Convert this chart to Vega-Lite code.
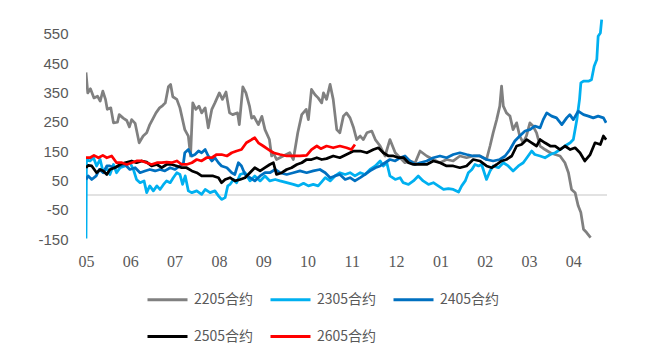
{
  "$schema": "https://vega.github.io/schema/vega-lite/v6.json",
  "width": 521,
  "height": 220,
  "autosize": "none",
  "padding": {"left": 86, "top": 19, "right": 43, "bottom": 123},
  "background": "white",
  "config": {"view": {"stroke": null}, "axis": {"labelOverlap": false}},
  "datasets": {
    "series": [
      {"s":"2205合约","m":0,"v":418},{"s":"2205合约","m":0.04,"v":348},{"s":"2205合约","m":0.1,"v":362},{"s":"2205合约","m":0.18,"v":331},{"s":"2205合约","m":0.26,"v":337},{"s":"2205合约","m":0.32,"v":320},{"s":"2205合约","m":0.38,"v":354},{"s":"2205合约","m":0.44,"v":326},{"s":"2205合约","m":0.48,"v":292},{"s":"2205合约","m":0.56,"v":297},{"s":"2205合约","m":0.62,"v":246},{"s":"2205合约","m":0.71,"v":248},{"s":"2205合约","m":0.75,"v":274},{"s":"2205合约","m":0.84,"v":262},{"s":"2205合约","m":0.92,"v":254},{"s":"2205合约","m":0.98,"v":232},{"s":"2205合约","m":1.03,"v":257},{"s":"2205合约","m":1.11,"v":244},{"s":"2205合约","m":1.2,"v":178},{"s":"2205合约","m":1.29,"v":201},{"s":"2205合约","m":1.37,"v":212},{"s":"2205合约","m":1.44,"v":240},{"s":"2205合约","m":1.5,"v":257},{"s":"2205合约","m":1.58,"v":280},{"s":"2205合约","m":1.66,"v":297},{"s":"2205合约","m":1.73,"v":305},{"s":"2205合约","m":1.79,"v":314},{"s":"2205合约","m":1.86,"v":369},{"s":"2205合约","m":1.91,"v":377},{"s":"2205合约","m":1.96,"v":335},{"s":"2205合约","m":2.05,"v":326},{"s":"2205合约","m":2.12,"v":297},{"s":"2205合约","m":2.23,"v":223},{"s":"2205合约","m":2.31,"v":201},{"s":"2205合约","m":2.36,"v":133},{"s":"2205合约","m":2.41,"v":314},{"s":"2205合约","m":2.48,"v":292},{"s":"2205合约","m":2.55,"v":303},{"s":"2205合约","m":2.61,"v":280},{"s":"2205合约","m":2.69,"v":297},{"s":"2205合约","m":2.76,"v":229},{"s":"2205合约","m":2.84,"v":292},{"s":"2205合约","m":2.91,"v":314},{"s":"2205合约","m":3.01,"v":348},{"s":"2205合约","m":3.08,"v":326},{"s":"2205合约","m":3.16,"v":351},{"s":"2205合约","m":3.24,"v":280},{"s":"2205合约","m":3.31,"v":274},{"s":"2205合约","m":3.42,"v":280},{"s":"2205合约","m":3.46,"v":240},{"s":"2205合约","m":3.54,"v":369},{"s":"2205合约","m":3.61,"v":348},{"s":"2205合约","m":3.69,"v":303},{"s":"2205合约","m":3.74,"v":262},{"s":"2205合约","m":3.79,"v":268},{"s":"2205合约","m":3.89,"v":240},{"s":"2205合约","m":3.97,"v":268},{"s":"2205合约","m":4.04,"v":223},{"s":"2205合约","m":4.14,"v":189},{"s":"2205合约","m":4.19,"v":133},{"s":"2205合约","m":4.23,"v":144},{"s":"2205合约","m":4.3,"v":121},{"s":"2205合约","m":4.45,"v":133},{"s":"2205合约","m":4.6,"v":144},{"s":"2205合约","m":4.68,"v":121},{"s":"2205合约","m":4.78,"v":212},{"s":"2205合约","m":4.87,"v":274},{"s":"2205合约","m":4.97,"v":292},{"s":"2205合约","m":5.02,"v":257},{"s":"2205合约","m":5.09,"v":360},{"s":"2205合约","m":5.17,"v":342},{"s":"2205合约","m":5.24,"v":331},{"s":"2205合约","m":5.32,"v":314},{"s":"2205合约","m":5.36,"v":348},{"s":"2205合约","m":5.43,"v":326},{"s":"2205合约","m":5.51,"v":377},{"s":"2205合约","m":5.58,"v":326},{"s":"2205合约","m":5.66,"v":223},{"s":"2205合约","m":5.73,"v":212},{"s":"2205合约","m":5.81,"v":269},{"s":"2205合约","m":5.88,"v":280},{"s":"2205合约","m":5.96,"v":263},{"s":"2205合约","m":6.04,"v":229},{"s":"2205合约","m":6.11,"v":189},{"s":"2205合约","m":6.19,"v":201},{"s":"2205合约","m":6.26,"v":189},{"s":"2205合约","m":6.34,"v":212},{"s":"2205合约","m":6.45,"v":218},{"s":"2205合约","m":6.53,"v":189},{"s":"2205合约","m":6.64,"v":167},{"s":"2205合约","m":6.75,"v":133},{"s":"2205合约","m":6.86,"v":189},{"s":"2205合约","m":6.98,"v":144},{"s":"2205合约","m":7.09,"v":127},{"s":"2205合约","m":7.2,"v":110},{"s":"2205合约","m":7.31,"v":116},{"s":"2205合约","m":7.43,"v":110},{"s":"2205合约","m":7.54,"v":150},{"s":"2205合约","m":7.69,"v":133},{"s":"2205合约","m":7.84,"v":121},{"s":"2205合约","m":7.99,"v":110},{"s":"2205合约","m":8.14,"v":121},{"s":"2205合约","m":8.29,"v":116},{"s":"2205合约","m":8.44,"v":133},{"s":"2205合约","m":8.59,"v":127},{"s":"2205合约","m":8.74,"v":133},{"s":"2205合约","m":8.89,"v":133},{"s":"2205合约","m":9.04,"v":121},{"s":"2205合约","m":9.12,"v":167},{"s":"2205合约","m":9.19,"v":212},{"s":"2205合约","m":9.27,"v":257},{"s":"2205合约","m":9.34,"v":303},{"s":"2205合约","m":9.38,"v":371},{"s":"2205合约","m":9.42,"v":303},{"s":"2205合约","m":9.49,"v":280},{"s":"2205合约","m":9.57,"v":269},{"s":"2205合约","m":9.64,"v":223},{"s":"2205合约","m":9.72,"v":246},{"s":"2205合约","m":9.79,"v":201},{"s":"2205合约","m":9.87,"v":178},{"s":"2205合约","m":9.94,"v":201},{"s":"2205合约","m":10.02,"v":246},{"s":"2205合约","m":10.09,"v":235},{"s":"2205合约","m":10.17,"v":212},{"s":"2205合约","m":10.25,"v":167},{"s":"2205合约","m":10.36,"v":155},{"s":"2205合约","m":10.48,"v":144},{"s":"2205合约","m":10.59,"v":138},{"s":"2205合约","m":10.7,"v":133},{"s":"2205合约","m":10.81,"v":110},{"s":"2205合约","m":10.89,"v":76},{"s":"2205合约","m":10.96,"v":19},{"s":"2205合约","m":11.04,"v":8},{"s":"2205合约","m":11.11,"v":-37},{"s":"2205合约","m":11.17,"v":-60},{"s":"2205合约","m":11.23,"v":-117},{"s":"2205合约","m":11.3,"v":-128},{"s":"2205合约","m":11.39,"v":-145},

      {"s":"2305合约","m":0,"v":-148},{"s":"2305合约","m":0.01,"v":121},{"s":"2305合约","m":0.09,"v":116},{"s":"2305合约","m":0.17,"v":127},{"s":"2305合约","m":0.24,"v":99},{"s":"2305合约","m":0.32,"v":121},{"s":"2305合约","m":0.39,"v":76},{"s":"2305合约","m":0.47,"v":93},{"s":"2305合约","m":0.54,"v":70},{"s":"2305合约","m":0.62,"v":104},{"s":"2305合约","m":0.69,"v":76},{"s":"2305合约","m":0.77,"v":93},{"s":"2305合约","m":0.88,"v":99},{"s":"2305合约","m":0.99,"v":110},{"s":"2305合约","m":1.07,"v":87},{"s":"2305合约","m":1.14,"v":53},{"s":"2305合约","m":1.22,"v":42},{"s":"2305合约","m":1.31,"v":48},{"s":"2305合约","m":1.37,"v":8},{"s":"2305合约","m":1.44,"v":31},{"s":"2305合约","m":1.52,"v":14},{"s":"2305合约","m":1.6,"v":31},{"s":"2305合约","m":1.67,"v":19},{"s":"2305合约","m":1.75,"v":36},{"s":"2305合约","m":1.82,"v":48},{"s":"2305合约","m":1.9,"v":42},{"s":"2305合约","m":1.97,"v":59},{"s":"2305合约","m":2.05,"v":76},{"s":"2305合约","m":2.12,"v":70},{"s":"2305合约","m":2.18,"v":36},{"s":"2305合约","m":2.24,"v":65},{"s":"2305合约","m":2.31,"v":14},{"s":"2305合约","m":2.39,"v":8},{"s":"2305合约","m":2.5,"v":14},{"s":"2305合约","m":2.61,"v":2},{"s":"2305合约","m":2.69,"v":19},{"s":"2305合约","m":2.8,"v":8},{"s":"2305合约","m":2.91,"v":14},{"s":"2305合约","m":2.99,"v":-3},{"s":"2305合约","m":3.06,"v":-15},{"s":"2305合约","m":3.14,"v":-9},{"s":"2305合约","m":3.2,"v":31},{"s":"2305合约","m":3.25,"v":36},{"s":"2305合约","m":3.33,"v":53},{"s":"2305合约","m":3.4,"v":42},{"s":"2305合约","m":3.48,"v":70},{"s":"2305合约","m":3.59,"v":76},{"s":"2305合约","m":3.7,"v":48},{"s":"2305合约","m":3.81,"v":65},{"s":"2305合约","m":3.93,"v":48},{"s":"2305合约","m":4.04,"v":65},{"s":"2305合约","m":4.15,"v":48},{"s":"2305合约","m":4.27,"v":53},{"s":"2305合约","m":4.38,"v":48},{"s":"2305合约","m":4.53,"v":42},{"s":"2305合约","m":4.68,"v":36},{"s":"2305合约","m":4.79,"v":31},{"s":"2305合约","m":4.91,"v":40},{"s":"2305合约","m":5.02,"v":31},{"s":"2305合约","m":5.13,"v":36},{"s":"2305合约","m":5.24,"v":31},{"s":"2305合约","m":5.32,"v":45},{"s":"2305合约","m":5.4,"v":59},{"s":"2305合约","m":5.51,"v":48},{"s":"2305合约","m":5.62,"v":65},{"s":"2305合约","m":5.73,"v":76},{"s":"2305合约","m":5.85,"v":70},{"s":"2305合约","m":5.96,"v":76},{"s":"2305合约","m":6.07,"v":65},{"s":"2305合约","m":6.19,"v":76},{"s":"2305合约","m":6.3,"v":70},{"s":"2305合约","m":6.41,"v":87},{"s":"2305合约","m":6.53,"v":99},{"s":"2305合约","m":6.64,"v":116},{"s":"2305合约","m":6.71,"v":99},{"s":"2305合约","m":6.79,"v":110},{"s":"2305合约","m":6.86,"v":65},{"s":"2305合约","m":6.98,"v":53},{"s":"2305合约","m":7.09,"v":59},{"s":"2305合约","m":7.16,"v":42},{"s":"2305合约","m":7.28,"v":36},{"s":"2305合约","m":7.39,"v":48},{"s":"2305合约","m":7.5,"v":65},{"s":"2305合约","m":7.61,"v":48},{"s":"2305合约","m":7.73,"v":36},{"s":"2305合约","m":7.84,"v":42},{"s":"2305合约","m":7.95,"v":31},{"s":"2305合约","m":8.07,"v":19},{"s":"2305合约","m":8.18,"v":22},{"s":"2305合约","m":8.29,"v":19},{"s":"2305合约","m":8.41,"v":10},{"s":"2305合约","m":8.48,"v":31},{"s":"2305合约","m":8.56,"v":48},{"s":"2305合约","m":8.63,"v":76},{"s":"2305合约","m":8.71,"v":87},{"s":"2305合约","m":8.78,"v":104},{"s":"2305合约","m":8.86,"v":99},{"s":"2305合约","m":8.93,"v":104},{"s":"2305合约","m":9.04,"v":53},{"s":"2305合约","m":9.12,"v":82},{"s":"2305合约","m":9.19,"v":99},{"s":"2305合约","m":9.31,"v":93},{"s":"2305合约","m":9.42,"v":110},{"s":"2305合约","m":9.53,"v":99},{"s":"2305合约","m":9.64,"v":82},{"s":"2305合约","m":9.76,"v":99},{"s":"2305合约","m":9.87,"v":110},{"s":"2305合约","m":9.98,"v":133},{"s":"2305合约","m":10.06,"v":150},{"s":"2305合约","m":10.13,"v":138},{"s":"2305合约","m":10.25,"v":133},{"s":"2305合约","m":10.36,"v":127},{"s":"2305合约","m":10.48,"v":138},{"s":"2305合约","m":10.59,"v":144},{"s":"2305合约","m":10.7,"v":155},{"s":"2305合约","m":10.81,"v":167},{"s":"2305合约","m":10.93,"v":178},{"s":"2305合约","m":11.0,"v":189},{"s":"2305合约","m":11.08,"v":257},{"s":"2305合约","m":11.14,"v":326},{"s":"2305合约","m":11.17,"v":382},{"s":"2305合约","m":11.23,"v":388},{"s":"2305合约","m":11.34,"v":388},{"s":"2305合约","m":11.41,"v":393},{"s":"2305合约","m":11.47,"v":439},{"s":"2305合约","m":11.53,"v":462},{"s":"2305合约","m":11.56,"v":541},{"s":"2305合约","m":11.61,"v":552},{"s":"2305合约","m":11.64,"v":598},

      {"s":"2405合约","m":0,"v":53},{"s":"2405合约","m":0.05,"v":65},{"s":"2405合约","m":0.13,"v":53},{"s":"2405合约","m":0.23,"v":65},{"s":"2405合约","m":0.3,"v":87},{"s":"2405合约","m":0.39,"v":76},{"s":"2405合约","m":0.47,"v":99},{"s":"2405合约","m":0.54,"v":99},{"s":"2405合约","m":0.65,"v":93},{"s":"2405合约","m":0.77,"v":99},{"s":"2405合约","m":0.88,"v":104},{"s":"2405合约","m":0.99,"v":87},{"s":"2405合约","m":1.11,"v":93},{"s":"2405合约","m":1.22,"v":76},{"s":"2405合约","m":1.33,"v":82},{"s":"2405合约","m":1.44,"v":87},{"s":"2405合约","m":1.56,"v":82},{"s":"2405合约","m":1.67,"v":87},{"s":"2405合约","m":1.78,"v":82},{"s":"2405合约","m":1.9,"v":93},{"s":"2405合约","m":2.01,"v":87},{"s":"2405合约","m":2.12,"v":99},{"s":"2405合约","m":2.2,"v":110},{"s":"2405合约","m":2.23,"v":144},{"s":"2405合约","m":2.31,"v":155},{"s":"2405合约","m":2.39,"v":133},{"s":"2405合约","m":2.46,"v":138},{"s":"2405合约","m":2.54,"v":150},{"s":"2405合约","m":2.61,"v":144},{"s":"2405合约","m":2.69,"v":155},{"s":"2405合约","m":2.76,"v":133},{"s":"2405合约","m":2.84,"v":116},{"s":"2405合约","m":2.91,"v":127},{"s":"2405合约","m":2.99,"v":110},{"s":"2405合约","m":3.06,"v":99},{"s":"2405合约","m":3.18,"v":93},{"s":"2405合约","m":3.29,"v":76},{"s":"2405合约","m":3.36,"v":70},{"s":"2405合约","m":3.44,"v":110},{"s":"2405合约","m":3.51,"v":99},{"s":"2405合约","m":3.59,"v":70},{"s":"2405合约","m":3.7,"v":59},{"s":"2405合约","m":3.81,"v":48},{"s":"2405合约","m":3.93,"v":65},{"s":"2405合约","m":4.04,"v":76},{"s":"2405合约","m":4.15,"v":76},{"s":"2405合约","m":4.27,"v":87},{"s":"2405合约","m":4.38,"v":76},{"s":"2405合约","m":4.53,"v":70},{"s":"2405合约","m":4.68,"v":76},{"s":"2405合约","m":4.83,"v":82},{"s":"2405合约","m":4.98,"v":76},{"s":"2405合约","m":5.13,"v":82},{"s":"2405合约","m":5.28,"v":87},{"s":"2405合约","m":5.4,"v":76},{"s":"2405合约","m":5.51,"v":59},{"s":"2405合约","m":5.62,"v":65},{"s":"2405合约","m":5.73,"v":70},{"s":"2405合约","m":5.85,"v":53},{"s":"2405合约","m":5.96,"v":59},{"s":"2405合约","m":6.07,"v":48},{"s":"2405合约","m":6.19,"v":59},{"s":"2405合约","m":6.3,"v":70},{"s":"2405合约","m":6.41,"v":82},{"s":"2405合约","m":6.53,"v":93},{"s":"2405合约","m":6.64,"v":99},{"s":"2405合约","m":6.75,"v":110},{"s":"2405合约","m":6.86,"v":121},{"s":"2405合约","m":6.98,"v":116},{"s":"2405合约","m":7.09,"v":127},{"s":"2405合约","m":7.2,"v":133},{"s":"2405合约","m":7.31,"v":116},{"s":"2405合约","m":7.43,"v":104},{"s":"2405合约","m":7.54,"v":110},{"s":"2405合约","m":7.69,"v":116},{"s":"2405合约","m":7.84,"v":127},{"s":"2405合约","m":7.99,"v":133},{"s":"2405合约","m":8.14,"v":127},{"s":"2405合约","m":8.29,"v":138},{"s":"2405合约","m":8.44,"v":144},{"s":"2405合约","m":8.59,"v":138},{"s":"2405合约","m":8.74,"v":133},{"s":"2405合约","m":8.89,"v":133},{"s":"2405合约","m":9.04,"v":121},{"s":"2405合约","m":9.19,"v":116},{"s":"2405合约","m":9.34,"v":121},{"s":"2405合约","m":9.46,"v":133},{"s":"2405合约","m":9.57,"v":155},{"s":"2405合约","m":9.68,"v":184},{"s":"2405合约","m":9.79,"v":201},{"s":"2405合约","m":9.91,"v":218},{"s":"2405合约","m":10.02,"v":223},{"s":"2405合约","m":10.13,"v":235},{"s":"2405合约","m":10.25,"v":229},{"s":"2405合约","m":10.32,"v":257},{"s":"2405合约","m":10.4,"v":280},{"s":"2405合约","m":10.51,"v":269},{"s":"2405合约","m":10.62,"v":263},{"s":"2405合约","m":10.74,"v":240},{"s":"2405合约","m":10.85,"v":263},{"s":"2405合约","m":10.92,"v":274},{"s":"2405合约","m":11.0,"v":257},{"s":"2405合约","m":11.11,"v":286},{"s":"2405合约","m":11.23,"v":274},{"s":"2405合约","m":11.34,"v":269},{"s":"2405合约","m":11.45,"v":263},{"s":"2405合约","m":11.56,"v":269},{"s":"2405合约","m":11.68,"v":263},{"s":"2405合约","m":11.74,"v":246},

      {"s":"2505合约","m":0,"v":93},{"s":"2505合约","m":0.05,"v":101},{"s":"2505合约","m":0.13,"v":99},{"s":"2505合约","m":0.24,"v":76},{"s":"2505合约","m":0.32,"v":87},{"s":"2505合约","m":0.39,"v":82},{"s":"2505合约","m":0.47,"v":70},{"s":"2505合约","m":0.54,"v":87},{"s":"2505合约","m":0.65,"v":93},{"s":"2505合约","m":0.77,"v":104},{"s":"2505合约","m":0.88,"v":110},{"s":"2505合约","m":1.03,"v":116},{"s":"2505合约","m":1.14,"v":110},{"s":"2505合约","m":1.26,"v":116},{"s":"2505合约","m":1.37,"v":112},{"s":"2505合约","m":1.48,"v":99},{"s":"2505合约","m":1.6,"v":104},{"s":"2505合约","m":1.71,"v":93},{"s":"2505合约","m":1.82,"v":104},{"s":"2505合约","m":1.93,"v":104},{"s":"2505合约","m":2.05,"v":99},{"s":"2505合约","m":2.16,"v":93},{"s":"2505合约","m":2.27,"v":93},{"s":"2505合约","m":2.39,"v":82},{"s":"2505合约","m":2.5,"v":76},{"s":"2505合约","m":2.61,"v":65},{"s":"2505合约","m":2.72,"v":65},{"s":"2505合约","m":2.87,"v":65},{"s":"2505合约","m":2.99,"v":59},{"s":"2505合约","m":3.06,"v":42},{"s":"2505合约","m":3.14,"v":53},{"s":"2505合约","m":3.25,"v":59},{"s":"2505合约","m":3.36,"v":48},{"s":"2505合约","m":3.48,"v":53},{"s":"2505合约","m":3.59,"v":59},{"s":"2505合约","m":3.7,"v":76},{"s":"2505合约","m":3.81,"v":93},{"s":"2505合约","m":3.93,"v":82},{"s":"2505合约","m":4.04,"v":93},{"s":"2505合约","m":4.15,"v":104},{"s":"2505合约","m":4.23,"v":110},{"s":"2505合约","m":4.3,"v":70},{"s":"2505合约","m":4.42,"v":76},{"s":"2505合约","m":4.53,"v":87},{"s":"2505合约","m":4.64,"v":93},{"s":"2505合约","m":4.76,"v":104},{"s":"2505合约","m":4.87,"v":110},{"s":"2505合约","m":4.98,"v":121},{"s":"2505合约","m":5.09,"v":121},{"s":"2505合约","m":5.21,"v":127},{"s":"2505合约","m":5.32,"v":121},{"s":"2505合约","m":5.43,"v":124},{"s":"2505合约","m":5.58,"v":133},{"s":"2505合约","m":5.73,"v":127},{"s":"2505合约","m":5.88,"v":138},{"s":"2505合约","m":6.04,"v":150},{"s":"2505合约","m":6.19,"v":150},{"s":"2505合约","m":6.34,"v":144},{"s":"2505合约","m":6.49,"v":155},{"s":"2505合约","m":6.6,"v":161},{"s":"2505合约","m":6.71,"v":144},{"s":"2505合约","m":6.83,"v":133},{"s":"2505合约","m":6.94,"v":133},{"s":"2505合约","m":7.06,"v":127},{"s":"2505合约","m":7.17,"v":127},{"s":"2505合约","m":7.28,"v":110},{"s":"2505合约","m":7.39,"v":104},{"s":"2505合约","m":7.54,"v":104},{"s":"2505合约","m":7.69,"v":104},{"s":"2505合约","m":7.84,"v":116},{"s":"2505合约","m":7.99,"v":110},{"s":"2505合约","m":8.14,"v":99},{"s":"2505合约","m":8.29,"v":99},{"s":"2505合约","m":8.44,"v":93},{"s":"2505合约","m":8.59,"v":99},{"s":"2505合约","m":8.74,"v":121},{"s":"2505合约","m":8.89,"v":116},{"s":"2505合约","m":9.04,"v":99},{"s":"2505合约","m":9.16,"v":93},{"s":"2505合约","m":9.27,"v":104},{"s":"2505合约","m":9.38,"v":116},{"s":"2505合约","m":9.49,"v":121},{"s":"2505合约","m":9.61,"v":133},{"s":"2505合约","m":9.72,"v":167},{"s":"2505合约","m":9.83,"v":172},{"s":"2505合约","m":9.95,"v":189},{"s":"2505合约","m":10.06,"v":178},{"s":"2505合约","m":10.17,"v":167},{"s":"2505合约","m":10.25,"v":189},{"s":"2505合约","m":10.36,"v":178},{"s":"2505合约","m":10.48,"v":167},{"s":"2505合约","m":10.59,"v":167},{"s":"2505合约","m":10.7,"v":155},{"s":"2505合约","m":10.81,"v":167},{"s":"2505合约","m":10.93,"v":155},{"s":"2505合约","m":11.04,"v":161},{"s":"2505合约","m":11.15,"v":144},{"s":"2505合约","m":11.26,"v":116},{"s":"2505合约","m":11.38,"v":138},{"s":"2505合约","m":11.49,"v":178},{"s":"2505合约","m":11.61,"v":172},{"s":"2505合约","m":11.68,"v":201},{"s":"2505合约","m":11.74,"v":189},

      {"s":"2605合约","m":0,"v":127},{"s":"2605合约","m":0.09,"v":127},{"s":"2605合约","m":0.18,"v":135},{"s":"2605合约","m":0.28,"v":127},{"s":"2605合约","m":0.38,"v":135},{"s":"2605合约","m":0.47,"v":127},{"s":"2605合约","m":0.58,"v":133},{"s":"2605合约","m":0.69,"v":110},{"s":"2605合约","m":0.81,"v":110},{"s":"2605合约","m":0.92,"v":104},{"s":"2605合约","m":1.03,"v":110},{"s":"2605合约","m":1.14,"v":116},{"s":"2605合约","m":1.26,"v":116},{"s":"2605合约","m":1.37,"v":110},{"s":"2605合约","m":1.48,"v":104},{"s":"2605合约","m":1.6,"v":110},{"s":"2605合约","m":1.71,"v":110},{"s":"2605合约","m":1.82,"v":112},{"s":"2605合约","m":1.93,"v":110},{"s":"2605合约","m":2.05,"v":116},{"s":"2605合约","m":2.16,"v":104},{"s":"2605合约","m":2.27,"v":104},{"s":"2605合约","m":2.39,"v":110},{"s":"2605合约","m":2.5,"v":121},{"s":"2605合约","m":2.61,"v":116},{"s":"2605合约","m":2.72,"v":127},{"s":"2605合约","m":2.84,"v":127},{"s":"2605合约","m":2.95,"v":138},{"s":"2605合约","m":3.06,"v":138},{"s":"2605合约","m":3.18,"v":133},{"s":"2605合约","m":3.29,"v":144},{"s":"2605合约","m":3.4,"v":150},{"s":"2605合约","m":3.51,"v":155},{"s":"2605合约","m":3.62,"v":178},{"s":"2605合约","m":3.74,"v":189},{"s":"2605合约","m":3.81,"v":195},{"s":"2605合约","m":3.89,"v":178},{"s":"2605合约","m":4.0,"v":167},{"s":"2605合约","m":4.12,"v":155},{"s":"2605合约","m":4.23,"v":144},{"s":"2605合约","m":4.38,"v":138},{"s":"2605合约","m":4.53,"v":133},{"s":"2605合约","m":4.68,"v":133},{"s":"2605合约","m":4.83,"v":133},{"s":"2605合约","m":4.98,"v":135},{"s":"2605合约","m":5.09,"v":155},{"s":"2605合约","m":5.21,"v":167},{"s":"2605合约","m":5.3,"v":158},{"s":"2605合约","m":5.43,"v":167},{"s":"2605合约","m":5.58,"v":161},{"s":"2605合约","m":5.73,"v":167},{"s":"2605合约","m":5.88,"v":161},{"s":"2605合约","m":5.99,"v":155},{"s":"2605合约","m":6.07,"v":172}
    ]
  },
  "layer": [
    {
      "data": {"values": [{"z": 0}]},
      "mark": {"type": "rule", "color": "#D9D9D9", "strokeWidth": 1.5},
      "encoding": {
        "y": {
          "field": "z", "type": "quantitative",
          "scale": {"domain": [-150, 600], "nice": false, "zero": false},
          "axis": {
            "title": null, "values": [-150,-50,50,150,250,350,450,550],
            "labelExpr": "datum.value < 0 ? '-' + abs(datum.value) : '' + datum.value",
            "domain": false, "ticks": false, "tickSize": 0, "grid": false,
            "labelFont": "Liberation Sans", "labelFontSize": 15, "labelColor": "#595959",
            "labelPadding": 18, "labelOverlap": false, "labelFlush": false
          }
        }
      }
    },
    {
      "data": {"name": "series"},
      "mark": {"type": "line", "strokeWidth": 2.75, "strokeJoin": "round", "clip": true},
      "encoding": {
        "x": {
          "field": "m", "type": "quantitative",
          "scale": {"domain": [0, 11.76], "nice": false, "zero": false},
          "axis": {
            "title": null, "values": [0,1,2,3,4,5,6,7,8,9,10,11],
            "labelExpr": "['05','06','07','08','09','10','11','12','01','02','03','04'][datum.value]",
            "domain": false, "ticks": false, "tickSize": 0, "grid": false,
            "labelFont": "Liberation Serif", "labelFontSize": 16, "labelColor": "#595959",
            "labelPadding": 14, "labelFlush": false, "labelBaseline": "top", "labelOverlap": false
          }
        },
        "y": {
          "field": "v", "type": "quantitative",
          "scale": {"domain": [-150, 600], "nice": false, "zero": false},
          "axis": {
            "title": null, "values": [-150,-50,50,150,250,350,450,550],
            "labelExpr": "datum.value < 0 ? '-' + abs(datum.value) : '' + datum.value",
            "domain": false, "ticks": false, "tickSize": 0, "grid": false,
            "labelFont": "Liberation Sans", "labelFontSize": 15, "labelColor": "#595959",
            "labelPadding": 18, "labelOverlap": false, "labelFlush": false
          }
        },
        "color": {
          "field": "s", "type": "nominal",
          "scale": {
            "domain": ["2205合约","2305合约","2405合约","2505合约","2605合约"],
            "range": ["#808080","#00B0F0","#0070C0","#000000","#FF0000"]
          },
          "legend": {
            "title": null, "orient": "none", "legendX": 60, "legendY": 259,
            "direction": "horizontal", "columns": 3, "columnPadding": 10, "rowPadding": 8,
            "gridAlign": "all", "padding": 0,
            "symbolType": "stroke", "symbolSize": 1600, "symbolStrokeWidth": 3,
            "labelFont": "Noto Sans CJK SC", "labelFontSize": 14, "labelColor": "#595959",
            "labelOffset": 5
          }
        }
      }
    }
  ]
}
